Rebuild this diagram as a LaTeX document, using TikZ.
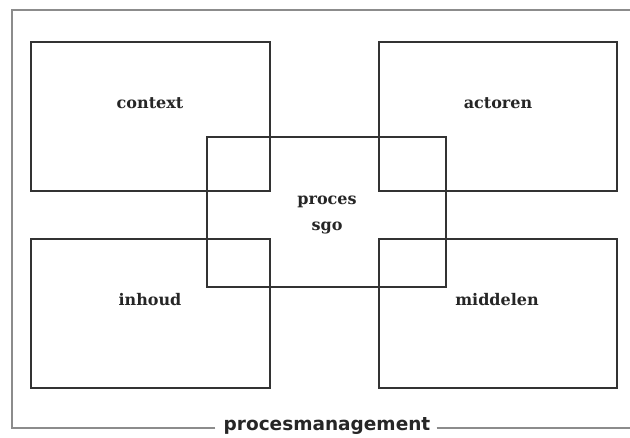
\documentclass[tikz,border=0pt]{standalone}
\usepackage{fontspec}
\newfontfamily\labelfont{DejaVu Serif}
\newfontfamily\titlefont{DejaVu Sans}
\begin{document}
\begin{tikzpicture}[x=1pt,y=-1pt,
  area/.style={draw=black!80, line width=1.1pt, fill=none},
  areatext/.style={font=\labelfont\bfseries\fontsize{16}{26}\selectfont, text=black!85, align=center},
  frame/.style={draw=black!45, line width=1.6pt},
  frametext/.style={font=\titlefont\bfseries\fontsize{18.5}{20}\selectfont, text=black!85, inner sep=0pt}]
\useasboundingbox[fill=white] (0,0) rectangle (630,437);

% four domains
\draw[area] (31,42) rectangle (270,191);
\draw[area] (379,42) rectangle (617,191);
\draw[area] (31,239) rectangle (270,388);
\draw[area] (379,239) rectangle (617,388);
% central process box
\draw[area] (207,137) rectangle (446,287);

\node[areatext] (context) at (150,103) {context};
\node[areatext] (actoren) at (498,103) {actoren};
\node[areatext] (inhoud) at (150,300) {inhoud};
\node[areatext] (middelen) at (497,300) {middelen};
\node[areatext, inner sep=0pt] (proces) at (327,215) {proces\\sgo};

% surrounding frame with its title in the bottom edge
\node[frametext] (pm) at (327,426) {procesmanagement};
\draw[frame] ([xshift=-8pt]pm.west |- 0,428) -- (12,428) -- (12,10) -- (632,10);
\draw[frame] ([xshift=6pt]pm.east |- 0,428) -- (632,428);
\end{tikzpicture}
\end{document}
